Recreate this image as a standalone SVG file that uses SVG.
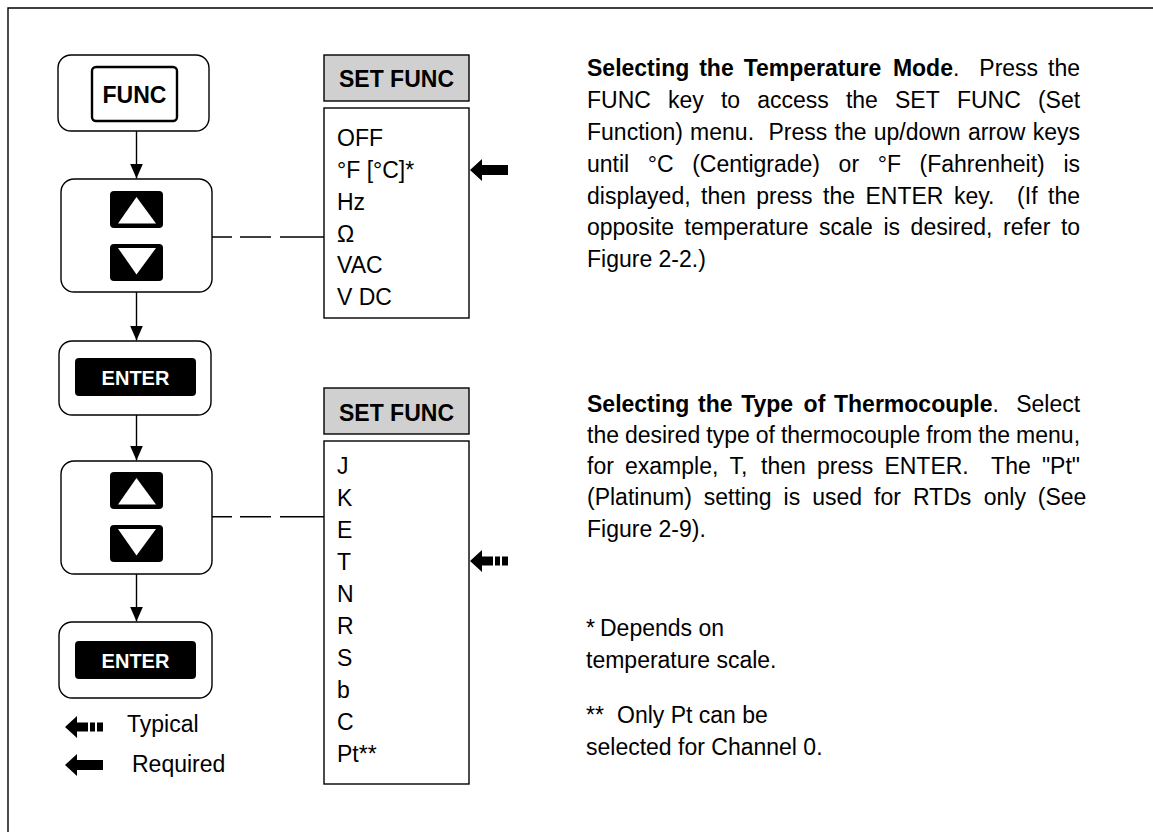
<svg xmlns="http://www.w3.org/2000/svg" width="1153" height="832" viewBox="0 0 1153 832">
<style>
.t{font-family:"Liberation Sans",Arial,Helvetica,sans-serif;font-size:23px;fill:#000}
.b{font-weight:bold}
.box{fill:#fff;stroke:#000;stroke-width:1.4}
.hdr{fill:#d0d0d0;stroke:#000;stroke-width:1.4}
.conn{stroke:#000;stroke-width:1.4;fill:none}
.kt{font-family:"Liberation Sans",Arial,Helvetica,sans-serif;font-weight:bold;fill:#fff;font-size:20px;text-anchor:middle}
</style>
<defs>
<marker id="ah" markerUnits="userSpaceOnUse" markerWidth="15" markerHeight="13" refX="15" refY="6.5" orient="auto"><path d="M0,0 L15,6.5 L0,13 z" fill="#000"/></marker>
<g id="upkey"><rect width="53" height="37" rx="4" fill="#000"/><path d="M26.5,6 L46,32.5 L8,32.5 z" fill="#fff"/></g>
<g id="downkey"><rect width="53" height="37" rx="4" fill="#000"/><path d="M8,4 L46,4 L26.5,30.5 z" fill="#fff"/></g>
<path id="reqArrow" d="M0,0 L12,-11 L12,-5 L38,-5 L38,5 L12,5 L12,11 Z" fill="#000"/>
<path id="typArrow" d="M0,0 L12,-11 L12,-4.5 L23,-4.5 L23,4.5 L12,4.5 L12,11 Z M25,-4.5 h5 v9 h-5 z M32,-4.5 h6 v9 h-6 z" fill="#000"/>
</defs>

<path d="M8,832 V8 H1153" class="conn"/>

<g id="connectors">
<line x1="136.5" y1="131" x2="136.5" y2="178.5" class="conn" marker-end="url(#ah)"/>
<line x1="136.5" y1="292" x2="136.5" y2="340.5" class="conn" marker-end="url(#ah)"/>
<line x1="136.5" y1="415" x2="136.5" y2="460.5" class="conn" marker-end="url(#ah)"/>
<line x1="136.5" y1="574" x2="136.5" y2="621.5" class="conn" marker-end="url(#ah)"/>
<path d="M212,237 H232 M240,237 H271 M280,237 H324" class="conn"/>
<path d="M212,516.7 H232 M240,516.7 H271 M280,516.7 H324" class="conn"/>
</g>

<g id="func-node">
<rect x="58" y="55" width="151" height="76" rx="13" class="box"/>
<rect x="92" y="67" width="85" height="54" rx="4" fill="#fff" stroke="#000" stroke-width="2.4"/>
<text x="134.5" y="103" class="t b" font-size="22" text-anchor="middle">FUNC</text>
</g>

<g id="updown-node-1">
<rect x="61" y="179" width="151" height="113" rx="13" class="box"/>
<use href="#upkey" x="110" y="191"/>
<use href="#downkey" x="110" y="244"/>
</g>

<g id="enter-node-1">
<rect x="59" y="341" width="152" height="74" rx="13" class="box"/>
<rect x="75" y="358" width="121" height="38" rx="4" fill="#000"/>
<text x="135.5" y="385" class="kt">ENTER</text>
</g>

<g id="updown-node-2">
<rect x="61" y="461" width="151" height="113" rx="13" class="box"/>
<use href="#upkey" x="110" y="472"/>
<use href="#downkey" x="110" y="525"/>
</g>

<g id="enter-node-2">
<rect x="59" y="622" width="153" height="76" rx="13" class="box"/>
<rect x="75" y="641" width="121" height="38" rx="4" fill="#000"/>
<text x="135.5" y="668" class="kt">ENTER</text>
</g>

<g id="menu-1">
<rect x="324" y="55" width="145" height="46" class="hdr"/>
<text x="396.5" y="87" class="t b" text-anchor="middle">SET FUNC</text>
<rect x="324" y="108" width="145" height="210" class="box"/>
<text class="t" x="337" y="146">OFF</text>
<text class="t" x="337" y="178">°F [°C]*</text>
<text class="t" x="337" y="210">Hz</text>
<text class="t" x="337" y="242" font-family="'Liberation Serif','Times New Roman',serif">Ω</text>
<text class="t" x="337" y="273">VAC</text>
<text class="t" x="337" y="305">V DC</text>
<use href="#reqArrow" x="470" y="170"/>
</g>

<g id="menu-2">
<rect x="324" y="388" width="145" height="46" class="hdr"/>
<text x="396.5" y="421" class="t b" text-anchor="middle">SET FUNC</text>
<rect x="324" y="441" width="145" height="343" class="box"/>
<text class="t" x="337" y="473.5">J</text>
<text class="t" x="337" y="505.6">K</text>
<text class="t" x="337" y="537.7">E</text>
<text class="t" x="337" y="569.8">T</text>
<text class="t" x="337" y="601.9">N</text>
<text class="t" x="337" y="634">R</text>
<text class="t" x="337" y="666">S</text>
<text class="t" x="337" y="698">b</text>
<text class="t" x="337" y="730">C</text>
<text class="t" x="337" y="762">Pt**</text>
<use href="#typArrow" x="470" y="561"/>
</g>

<g id="legend">
<use href="#typArrow" x="65" y="727"/>
<text class="t" x="127" y="732">Typical</text>
<use href="#reqArrow" x="65" y="765"/>
<text class="t" x="132" y="772">Required</text>
</g>

<g id="para-1" class="t">
<text y="76"><tspan x="587" class="b">Selecting</tspan><tspan x="699.2" class="b">the</tspan><tspan x="743.7" class="b">Temperature</tspan><tspan x="892.9" class="b">Mode</tspan><tspan x="952.97">.</tspan><tspan x="979.3">Press</tspan><tspan x="1048">the</tspan></text>
<text y="108"><tspan x="587">FUNC</tspan><tspan x="668">key</tspan><tspan x="720.9">to</tspan><tspan x="757.2">access</tspan><tspan x="845.9">the</tspan><tspan x="895">SET</tspan><tspan x="956.9">FUNC</tspan><tspan x="1037.9">(Set</tspan></text>
<text y="140"><tspan x="587">Function)</tspan><tspan x="690.1">menu.</tspan><tspan x="768.5">Press</tspan><tspan x="834.5">the</tspan><tspan x="873.7">up/down</tspan><tspan x="967.9">arrow</tspan><tspan x="1032.7">keys</tspan></text>
<text y="171.5"><tspan x="587">until</tspan><tspan x="647.8">°C</tspan><tspan x="692.2">(Centigrade)</tspan><tspan x="838.6">or</tspan><tspan x="877.7">°F</tspan><tspan x="919.5">(Fahrenheit)</tspan><tspan x="1063.4">is</tspan></text>
<text y="203.5"><tspan x="587">displayed,</tspan><tspan x="701">then</tspan><tspan x="756.3">press</tspan><tspan x="823">the</tspan><tspan x="865.5">ENTER</tspan><tspan x="953.9">key.</tspan><tspan x="1017.1">(If</tspan><tspan x="1048">the</tspan></text>
<text y="235"><tspan x="587">opposite</tspan><tspan x="684.5">temperature</tspan><tspan x="819.1">scale</tspan><tspan x="883.4">is</tspan><tspan x="910.6">desired,</tspan><tspan x="1003">refer</tspan><tspan x="1060.9">to</tspan></text>
<text y="267" x="587">Figure 2-2.)</text>
</g>

<g id="para-2" class="t">
<text y="411.5"><tspan x="587" class="b">Selecting</tspan><tspan x="698" class="b">the</tspan><tspan x="741.2" class="b">Type</tspan><tspan x="803.6" class="b">of</tspan><tspan x="834" class="b">Thermocouple</tspan><tspan x="992.5">.</tspan><tspan x="1016.2">Select</tspan></text>
<text y="442.8"><tspan x="587">the</tspan><tspan x="624.9">desired</tspan><tspan x="706.3">type</tspan><tspan x="755.7">of</tspan><tspan x="780.9">thermocouple</tspan><tspan x="926.2">from</tspan><tspan x="978.2">the</tspan><tspan x="1016.1">menu,</tspan></text>
<text y="474.1"><tspan x="587">for</tspan><tspan x="625">example,</tspan><tspan x="729.5">T,</tspan><tspan x="761.1">then</tspan><tspan x="817">press</tspan><tspan x="884.4">ENTER.</tspan><tspan x="991.1">The</tspan><tspan x="1041.9">"Pt"</tspan></text>
<text y="505.4"><tspan x="587">(Platinum)</tspan><tspan x="703.8">setting</tspan><tspan x="783.6">is</tspan><tspan x="812.2">used</tspan><tspan x="874">for</tspan><tspan x="912.9">RTDs</tspan><tspan x="983.7">only</tspan><tspan x="1037.8">(See</tspan></text>
<text y="536.7" x="587">Figure 2-9).</text>
</g>

<g id="footnotes" class="t">
<text y="636"><tspan x="586">*</tspan><tspan x="600">Depends on</tspan></text>
<text y="668" x="586">temperature scale.</text>
<text y="723"><tspan x="586">**</tspan><tspan x="617">Only Pt can be</tspan></text>
<text y="755" x="586">selected for Channel 0.</text>
</g>
</svg>
